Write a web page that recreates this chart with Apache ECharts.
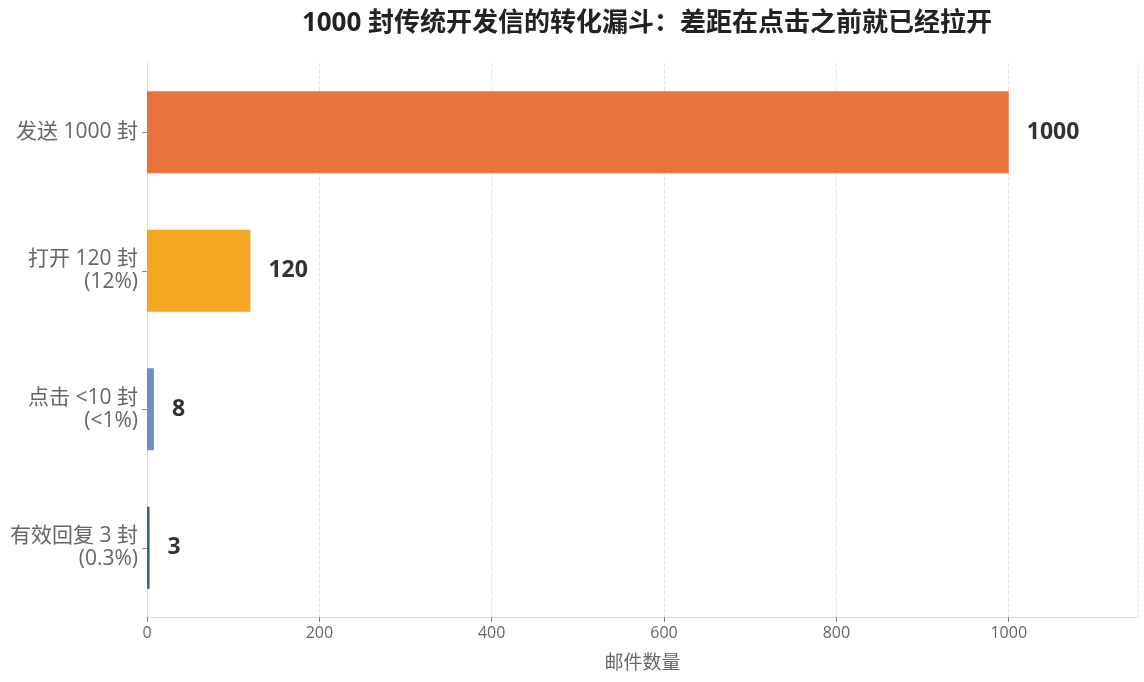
<!DOCTYPE html>
<html lang="zh">
<head>
  <meta charset="UTF-8">
  <title>转化漏斗</title>
  <script src="https://cdn.jsdelivr.net/npm/echarts@6/dist/echarts.min.js"></script>
  <style>
    html, body { margin: 0; padding: 0; background: #fff; }
    #chart { width: 1144px; height: 682px; }
  </style>
</head>
<body>
<div id="chart"></div>
<script>
  // 数据
  const stages = ["发送 1000 封", "打开 120 封\n(12%)", "点击 <10 封\n(<1%)", "有效回复 3 封\n(0.3%)"];
  const counts = [1000, 120, 8, 3];
  const barColors = ["#E8743B", "#F5A623", "#6F8FC2", "#3D5F8E"];
  const xTicks = [0, 200, 400, 600, 800, 1000];

  const font = '"Open Sans", "Noto Sans CJK SC", sans-serif';
  const chart = echarts.init(document.getElementById("chart"));

  chart.setOption({
    backgroundColor: "#fff",
    textStyle: { fontFamily: font },
    title: {
      text: "1000 封传统开发信的转化漏斗：差距在点击之前就已经拉开",
      left: 642,
      textAlign: "center",
      top: 6,
      textStyle: { fontSize: 26, fontWeight: "bold", color: "#222", fontFamily: font }
    },
    grid: { left: 147, right: 6, top: 63, bottom: 65 },
    xAxis: {
      type: "value",
      min: 0,
      max: 1150,
      interval: 200,
      name: "邮件数量",
      nameLocation: "middle",
      nameGap: 37,
      nameTextStyle: { fontSize: 19, color: "#666", fontFamily: font },
      axisLine: { show: true, lineStyle: { color: "#ddd" } },
      axisTick: { show: true, length: 5, lineStyle: { color: "#888" } },
      axisLabel: {
        fontSize: 16, color: "#666", margin: 8, showMaxLabel: false,
        formatter: v => (xTicks.includes(v) ? String(v) : "")
      },
      splitLine: { show: true, lineStyle: { color: "#e6e6e6", type: "dashed" } }
    },
    yAxis: {
      type: "category",
      inverse: true,
      data: stages,
      axisLine: { show: true, lineStyle: { color: "#ddd" } },
      axisTick: { show: true, alignWithLabel: true, length: 5, lineStyle: { color: "#888" } },
      axisLabel: { fontSize: 21, color: "#666", lineHeight: 23, align: "right", margin: 9 }
    },
    series: [{
      type: "bar",
      data: counts.map((v, i) => ({ value: v, itemStyle: { color: barColors[i] } })),
      barWidth: 82,
      label: {
        show: true,
        position: "right",
        distance: 18,
        fontSize: 23,
        fontWeight: "bold",
        color: "#333",
        fontFamily: font
      }
    }]
  });
</script>
</body>
</html>
